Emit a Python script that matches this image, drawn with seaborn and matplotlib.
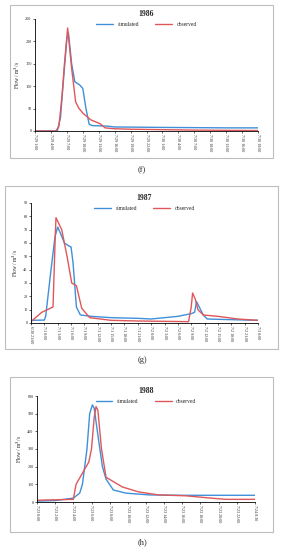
import numpy as np
import pandas as pd
import seaborn as sns
import matplotlib.pyplot as plt
from matplotlib.patches import Rectangle

sns.set_style("white")
plt.rcParams['font.family'] = ['Liberation Serif', 'DejaVu Serif']

BLUE = "#3f8fd9"
RED = "#e0575a"

# ---- 1986 (f) ----
ticks_86 = ["7/29 1:00", "7/29 4:00", "7/29 7:00", "7/29 10:00", "7/29 13:00",
            "7/29 16:00", "7/29 19:00", "7/29 22:00", "7/30 1:00", "7/30 4:00",
            "7/30 7:00", "7/30 10:00", "7/30 13:00", "7/30 16:00", "7/30 19:00"]
sim_86_x = [0, 1.4, 1.6, 1.8, 2.0, 2.1, 2.3, 2.5, 2.8, 3.0, 3.2, 3.4, 3.6, 4.5, 5, 8, 12, 14]
sim_86_y = [0, 0, 30, 120, 205, 219, 150, 110, 103, 95, 50, 15, 12, 11, 9, 8, 7, 7]
obs_86_x = [0, 1.3, 1.5, 1.7, 1.85, 2.05, 2.3, 2.55, 2.75, 3.0, 3.5, 4.1, 4.4, 5, 6, 8, 10, 14]
obs_86_y = [0, 0, 10, 80, 150, 230, 140, 65, 51, 40, 25, 16, 7, 5, 4, 3, 2, 1]

# ---- 1987 (g) ----
ticks_87 = ["6/30 21:00", "7/1 0:00", "7/1 3:00", "7/1 6:00", "7/1 9:00", "7/1 12:00",
            "7/1 15:00", "7/1 18:00", "7/1 21:00", "7/2 0:00", "7/2 3:00", "7/2 6:00",
            "7/2 9:00", "7/2 12:00", "7/2 15:00", "7/2 18:00", "7/2 21:00", "7/3 0:00"]
sim_87_x = [0, 1.0, 1.1, 1.5, 1.8, 2.0, 2.3, 2.5, 2.8, 3.0, 3.15, 3.4, 3.7, 4.5, 6, 8, 9,
            10, 11, 12, 12.25, 12.4, 12.6, 12.9, 13.2, 15, 17]
sim_87_y = [2, 2.2, 5, 40, 65, 72, 65, 60, 58, 57, 45, 12, 6, 5, 4, 3.5, 3, 4, 5, 7, 8,
            16, 12, 6, 3, 2.5, 2]
obs_87_x = [0, 0.8, 1.65, 1.8, 1.87, 2.3, 2.7, 3.05, 3.4, 3.8, 4.4, 6, 8, 11.8, 12.0,
            12.1, 12.3, 12.5, 12.9, 14, 15.5, 17]
obs_87_y = [1, 8, 12, 60, 79, 70, 50, 30, 28, 11, 4, 2, 1.5, 1, 12, 22.5, 18, 10, 6, 5, 3, 2]

# ---- 1988 (h) ----
ticks_88 = ["7/23 0:00", "7/23 2:00", "7/23 4:00", "7/23 6:00", "7/23 8:00", "7/23 10:00",
            "7/23 12:00", "7/23 14:00", "7/23 16:00", "7/23 18:00", "7/23 20:00",
            "7/23 22:00", "7/24 0:30"]
sim_88_x = [0, 1, 2, 2.35, 2.5, 2.75, 2.9, 3.05, 3.15, 3.35, 3.6, 3.8, 4.2, 4.9, 6.2, 8, 12]
sim_88_y = [5, 8, 22, 50, 100, 300, 500, 550, 530, 380, 200, 130, 68, 50, 40, 38, 38]
obs_88_x = [0, 2.0, 2.15, 2.85, 3.0, 3.15, 3.25, 3.35, 3.55, 3.8, 4.7, 5.6, 6.7, 8.2,
            9.8, 10.4, 12]
obs_88_y = [10, 15, 100, 226, 300, 480, 540, 520, 300, 140, 85, 57, 40, 35, 20, 15, 15]

W, H = 282, 550
fig = plt.figure(figsize=(W / 100, H / 100), dpi=100)


def px_axes(left, right, top, bottom):
    return fig.add_axes([left / W, 1 - bottom / H, (right - left) / W, (bottom - top) / H])


def panel(ax, sx, sy, ox, oy, ticks, yticks, title):
    sim = pd.DataFrame({"x": sx, "y": sy})
    obs = pd.DataFrame({"x": ox, "y": oy})
    sns.lineplot(data=sim, x="x", y="y", ax=ax, color=BLUE, lw=1.0, label="simulated")
    sns.lineplot(data=obs, x="x", y="y", ax=ax, color=RED, lw=1.0, label="observed")
    ax.set_xlim(0, len(ticks) - 1)
    ax.set_ylim(yticks[0], yticks[-1])
    ax.set_xticks(range(len(ticks)))
    ax.set_xticklabels(ticks, rotation=-90, fontsize=2.9)
    ax.set_yticks(yticks)
    ax.set_yticklabels([str(v) for v in yticks], fontsize=3.1)
    ax.set_xlabel("")
    ax.set_ylabel("Flow / m$^3$/s", fontsize=4, labelpad=2)
    ax.set_title(title, fontsize=5.5, fontweight="bold", pad=2)
    sns.despine(ax=ax)
    for s in ("left", "bottom"):
        ax.spines[s].set_linewidth(0.6)
        ax.spines[s].set_color("black")
    ax.tick_params(axis="both", direction="out", length=1.5, width=0.5, pad=1,
                   left=True, bottom=True)
    ax.legend(loc="upper center", ncol=2, frameon=False, fontsize=4,
              handlelength=3, columnspacing=3, borderaxespad=0.2)
    ax.patch.set_alpha(0)


# panel frames and captions
for (l, t, r, b), cap, cy in [((10, 5, 273, 158), "(f)", 170),
                               ((5, 186, 278, 349), "(g)", 360),
                               ((10, 377, 273, 532), "(h)", 542)]:
    fig.patches.append(Rectangle((l / W, 1 - b / H), (r - l) / W, (b - t) / H,
                                 transform=fig.transFigure, fill=False,
                                 edgecolor="#bdbdbd", lw=0.8))
    fig.text(142 / W, 1 - cy / H, cap, ha="center", va="center", fontsize=6)

ax_f = px_axes(35, 258, 19, 131)
panel(ax_f, sim_86_x, sim_86_y, obs_86_x, obs_86_y, ticks_86,
      [0, 50, 100, 150, 200, 250], "1986")

ax_g = px_axes(31, 258, 203, 323)
panel(ax_g, sim_87_x, sim_87_y, obs_87_x, obs_87_y, ticks_87,
      list(range(0, 100, 10)), "1987")

ax_h = px_axes(37, 255, 396, 502)
panel(ax_h, sim_88_x, sim_88_y, obs_88_x, obs_88_y, ticks_88,
      list(range(0, 700, 100)), "1988")

fig.savefig("out.png", dpi=100)
